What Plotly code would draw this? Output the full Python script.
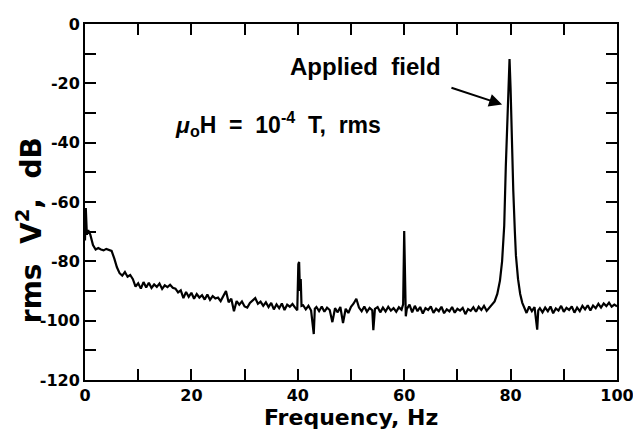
import plotly.graph_objects as go

# Frequency (Hz) and level (dB re 1 V^2 rms)
freq_hz = [
    0.0, 0.15, 0.35, 0.6, 1.0, 1.5, 2.0, 2.5, 3.0, 3.5, 4.0, 4.5, 5.0, 5.5, 6.0, 6.5,
    7.0, 7.5, 8.0, 8.5, 9.0, 9.5, 10.0, 10.5, 11.0, 11.5, 12.0, 12.5, 13.0, 13.5,
    14.0, 14.5, 15.0, 15.5, 16.0, 16.5, 17.0, 17.5, 18.0, 18.5, 19.0, 19.5, 20.0,
    20.5, 21.0, 21.5, 22.0, 22.5, 23.0, 23.5, 24.0, 24.5, 25.0, 25.5, 26.0, 26.5,
    27.0, 27.5, 28.0, 28.5, 29.0, 29.5, 30.0, 30.5, 31.0, 31.5, 32.0, 32.5, 33.0,
    33.5, 34.0, 34.5, 35.0, 35.5, 36.0, 36.5, 37.0, 37.5, 38.0, 38.5, 39.0, 39.5,
    39.9, 40.1, 40.25, 40.4, 40.55, 40.7, 41.0, 41.5, 42.0, 42.5, 43.0, 43.2, 43.5,
    44.0, 44.5, 45.0, 45.5, 46.0, 46.5, 47.0, 47.5, 48.0, 48.5, 49.0, 49.5, 50.0,
    50.5, 51.0, 51.5, 52.0, 52.5, 53.0, 53.5, 54.0, 54.2, 54.5, 55.0, 55.5, 56.0,
    56.5, 57.0, 57.5, 58.0, 58.5, 59.0, 59.5, 59.8, 60.0, 60.15, 60.3, 60.5, 61.0,
    61.5, 62.0, 62.5, 63.0, 63.5, 64.0, 64.5, 65.0, 65.5, 66.0, 66.5, 67.0, 67.5,
    68.0, 68.5, 69.0, 69.5, 70.0, 70.5, 71.0, 71.5, 72.0, 72.5, 73.0, 73.5, 74.0,
    74.5, 75.0, 75.5, 76.0, 76.5, 77.0, 77.5, 78.0, 78.4, 78.8, 79.1, 79.4, 79.6,
    79.8, 80.0, 80.2, 80.5, 80.8, 81.0, 81.4, 81.8, 82.2, 82.6, 83.0, 83.5, 84.0,
    84.5, 85.0, 85.2, 85.5, 86.0, 86.5, 87.0, 87.5, 88.0, 88.5, 89.0, 89.5, 90.0,
    90.5, 91.0, 91.5, 92.0, 92.5, 93.0, 93.5, 94.0, 94.5, 95.0, 95.5, 96.0, 96.5,
    97.0, 97.5, 98.0, 98.5, 99.0, 99.5, 100.0,
]
level_db = [
    -73.0, -62.0, -71.0, -69.5, -71.0, -74.5, -76.0, -75.5, -76.0, -76.3, -75.8, -76.2, -76.5, -79.0, -82.0, -84.0,
    -84.8, -83.6, -85.2, -84.6, -86.0, -88.5, -87.4, -89.2, -87.0, -88.8, -87.2, -89.0, -87.8, -88.6,
    -87.5, -89.3, -88.1, -88.7, -87.9, -88.9, -89.2, -90.5, -89.8, -92.4, -90.3, -92.0, -90.6,
    -92.6, -91.0, -92.2, -91.4, -92.9, -91.2, -93.0, -91.7, -92.5, -92.2, -93.4, -91.8, -90.0,
    -93.8, -92.6, -96.8, -93.4, -94.6, -93.5, -95.2, -95.6, -94.0, -93.2, -92.4, -94.3, -93.6,
    -95.0, -93.8, -95.4, -94.0, -96.2, -94.5, -95.8, -94.2, -96.4, -94.6, -95.3, -94.4, -95.6,
    -96.5, -81.0, -80.2, -90.0, -86.0, -95.0, -94.8, -96.2, -95.0, -96.6, -104.5, -96.0, -95.4,
    -96.8, -95.2, -97.0, -95.6, -96.4, -100.5, -95.8, -97.2, -95.4, -100.8, -96.0, -97.4, -95.3,
    -94.2, -92.6, -95.6, -96.8, -95.2, -97.0, -95.7, -96.5, -103.2, -96.0, -95.4, -97.2, -95.6,
    -96.9, -95.3, -96.6, -95.8, -97.0, -95.5, -96.3, -94.5, -69.8, -95.0, -98.5, -96.0, -94.6,
    -97.2, -95.0, -96.8, -95.4, -97.6, -95.8, -96.4, -95.2, -97.4, -96.0, -96.8, -95.3, -97.5,
    -96.2, -96.9, -95.4, -97.3, -96.0, -96.6, -95.7, -97.8, -96.1, -96.7, -95.5, -97.0, -95.3,
    -96.4, -95.0, -96.7, -95.5, -94.5, -93.5, -91.0, -86.5, -80.0, -68.0, -48.0, -32.0, -20.0,
    -11.8, -22.0, -38.0, -56.0, -70.0, -78.0, -86.0, -91.0, -94.0, -96.0, -97.4, -95.2, -96.8,
    -95.4, -103.0, -96.5, -95.8, -97.2, -95.6, -96.8, -95.2, -97.5, -95.9, -96.6, -95.0, -97.0,
    -95.7, -96.4, -95.2, -97.3, -95.6, -96.8, -95.0, -96.2, -94.8, -96.6, -94.9, -95.8, -94.3,
    -95.6, -94.2, -95.1, -93.9, -95.3, -94.6, -95.2,
]

x_tick_vals = [0, 10, 20, 30, 40, 50, 60, 70, 80, 90, 100]
x_tick_text = ["0", "", "20", "", "40", "", "60", "", "80", "", "100"]
y_tick_vals = [0, -10, -20, -30, -40, -50, -60, -70, -80, -90, -100, -110, -120]
y_tick_text = ["0", "", "-20", "", "-40", "", "-60", "", "-80", "", "-100", "", "-120"]

tick_font = dict(family="DejaVu Sans", size=16, color="black", weight="bold")
label_font = dict(family="DejaVu Sans", size=22, color="black", weight="bold")
note_font = dict(family="Liberation Sans", size=24, color="black", weight="bold")

fig = go.Figure()
fig.add_trace(go.Scatter(
    x=freq_hz, y=level_db, mode="lines",
    line=dict(color="black", width=2.2), showlegend=False,
))

axis_common = dict(
    showline=True, linecolor="black", linewidth=2, mirror="ticks",
    ticks="inside", ticklen=11, tickwidth=2, tickcolor="black",
    showgrid=False, zeroline=False, tickfont=tick_font, automargin=False,
    ticklabeloverflow="allow",
)
fig.update_xaxes(range=[0, 100], tickvals=x_tick_vals, ticktext=x_tick_text, **axis_common)
fig.update_yaxes(range=[-120, 0], tickvals=y_tick_vals, ticktext=y_tick_text, **axis_common)

fig.add_annotation(
    xref="paper", yref="paper", x=0.5, y=-0.104, text="Frequency, Hz",
    showarrow=False, font=label_font, xanchor="center", yanchor="middle",
)
fig.add_annotation(
    xref="paper", yref="paper", x=-0.104, y=0.42, text="rms\u00a0 V<sup>2</sup>,\u00a0 dB",
    showarrow=False, font=dict(family="DejaVu Sans", size=28, color="black", weight="bold"),
    textangle=-90, xanchor="center", yanchor="middle",
)
fig.add_annotation(
    x=38.2, y=-14.3, text="Applied\u00a0 field", showarrow=False,
    font=note_font, xanchor="left", yanchor="middle",
)
fig.add_annotation(
    x=16.5, y=-33.8,
    text="<i>\u03bc</i><sub>o</sub>H\u00a0 =\u00a0 10<sup>-4</sup>\u00a0 T,\u00a0 rms",
    showarrow=False, font=dict(family="Liberation Sans", size=23, color="black", weight="bold"),
    xanchor="left", yanchor="middle",
)
fig.add_annotation(
    x=78.4, y=-27.1, ax=68.6, ay=-21.3, axref="x", ayref="y", text="",
    showarrow=True, arrowhead=2, arrowsize=1.3, arrowwidth=2, arrowcolor="black",
)

fig.update_layout(
    width=633, height=429,
    margin=dict(l=85, r=16, t=24, b=49),
    paper_bgcolor="white", plot_bgcolor="white",
)
fig.write_html(
    "out.html",
    config={"displayModeBar": False},
    post_script="document.body.style.margin='0';document.body.style.overflow='hidden';",
)
